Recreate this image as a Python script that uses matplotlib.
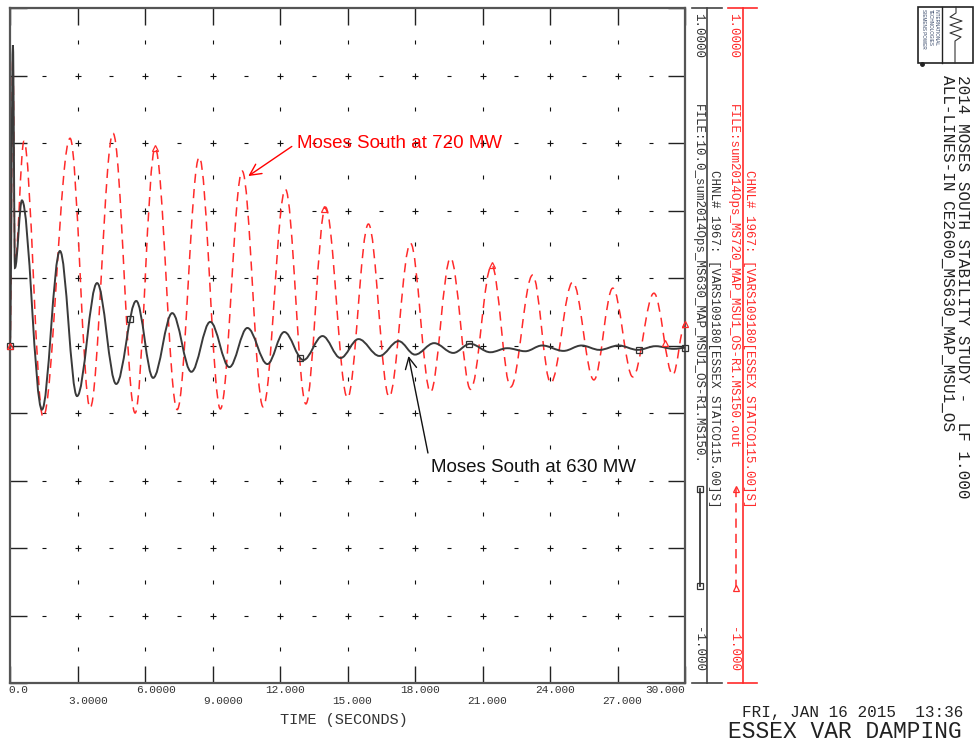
import numpy as np
import matplotlib
matplotlib.use("Agg")
import matplotlib.pyplot as plt
from matplotlib.path import Path
from matplotlib.patches import PathPatch, Rectangle

# ---- channel data: VARS109180 [ESSEX STATCO 115.00], normalised to +/-1 ----
# Moses South at 630 MW (solid): turning points of the response
black_t = [0.0, 0.13, 0.22, 0.53, 1.42, 2.22, 2.98, 3.87, 4.72, 5.61, 6.36, 7.21,
           8.06, 8.90, 9.75, 10.55, 11.44, 12.19, 13.04, 13.89, 14.69, 15.49,
           16.42, 17.27, 18.00, 18.85, 19.70, 20.45, 21.35, 22.10, 22.90, 23.65,
           24.60, 25.40, 26.20, 27.05, 27.90, 28.70, 29.50, 30.0]
black_v = [0.0, 0.89, 0.23, 0.43, -0.19, 0.28, -0.15, 0.185, -0.114, 0.132, -0.096, 0.096,
           -0.078, 0.070, -0.064, 0.052, -0.055, 0.040, -0.043, 0.028, -0.037, 0.019,
           -0.031, 0.013, -0.027, 0.007, -0.022, 0.005, -0.020, -0.008, -0.017, 0.0,
           -0.016, 0.0, -0.013, 0.0, -0.013, -0.002, -0.010, -0.007]
black_mark_t = [0.0, 5.35, 12.9, 20.4, 27.95, 30.0]
black_mark_v = [0.0, 0.078, -0.038, 0.005, -0.013, -0.007]

# Moses South at 720 MW (dashed)
red_t = [0.0, 0.13, 0.22, 0.62, 1.47, 2.67, 3.56, 4.58, 5.56, 6.45, 7.43, 8.41,
         9.35, 10.32, 11.25, 12.24, 13.15, 14.02, 15.00, 15.93, 16.85, 17.80,
         18.69, 19.58, 20.47, 21.41, 22.25, 23.23, 24.03, 25.01, 25.95, 26.79,
         27.68, 28.62, 29.46, 30.0]
red_v = [0.0, 0.86, 0.245, 0.605, -0.212, 0.614, -0.185, 0.629, -0.200, 0.585, -0.190, 0.558,
         -0.188, 0.517, -0.182, 0.463, -0.173, 0.410, -0.155, 0.360, -0.152, 0.303,
         -0.138, 0.259, -0.130, 0.238, -0.123, 0.209, -0.111, 0.188, -0.102, 0.170,
         -0.093, 0.155, -0.087, 0.064]
red_mark_t = [0.0, 6.45, 13.95, 21.41, 29.1, 30.0]
red_mark_v = [0.0, 0.585, 0.405, 0.238, 0.007, 0.064]

x_tick_labels = ["0.0", "3.0000", "6.0000", "9.0000", "12.000", "15.000",
                 "18.000", "21.000", "24.000", "27.000", "30.000"]
x_ticks = [0, 3, 6, 9, 12, 15, 18, 21, 24, 27, 30]

MONO = "Liberation Mono"
SANS = "Liberation Sans"
RED = "#ff2a2a"
INK = "#333333"

W, H = 977, 742
fig = plt.figure(figsize=(W / 100, H / 100), dpi=100)
fig.patch.set_facecolor("white")

ax = fig.add_axes([10 / W, (H - 683) / H, 675 / W, 675 / H])
ax.set_xlim(0, 30)
ax.set_ylim(-1, 1)
ax.set_xticks(x_ticks)
ax.set_yticks(np.round(np.linspace(-1, 1, 11), 2))
ax.tick_params(direction="in", length=12.5, width=1.0, color="#222222",
               top=True, right=True, labelbottom=False, labelleft=False)
for sp in ax.spines.values():
    sp.set_color("#555555")
    sp.set_linewidth(1.6)

# plotter-style grid: crosses at major intersections, dashes/ticks halfway
xm = np.arange(3, 30, 3)
ym = np.round(np.arange(-0.8, 0.81, 0.2), 2)
XX, YY = np.meshgrid(xm, ym)
ax.plot(XX.ravel(), YY.ravel(), ls="none", marker="+", ms=4, mew=0.8, color="#111111", zorder=1)
XH, YH = np.meshgrid(np.arange(1.5, 30, 3), ym)
ax.plot(XH.ravel(), YH.ravel(), ls="none", marker="_", ms=3.2, mew=0.8, color="#111111", zorder=1)
XV, YV = np.meshgrid(xm, np.round(np.arange(-0.9, 0.91, 0.2), 2))
ax.plot(XV.ravel(), YV.ravel(), ls="none", marker="|", ms=3.2, mew=0.8, color="#111111", zorder=1)


def wave_path(t, v, k=0.36):
    """Smooth curve through successive turning points (cubic Bezier pieces)."""
    verts = [(t[0], v[0])]
    codes = [Path.MOVETO]
    for i in range(len(t) - 1):
        d = t[i + 1] - t[i]
        verts += [(t[i] + k * d, v[i]), (t[i + 1] - k * d, v[i + 1]), (t[i + 1], v[i + 1])]
        codes += [Path.CURVE4] * 3
    return Path(verts, codes)


ax.add_patch(PathPatch(wave_path(red_t, red_v), fill=False, ec=RED, lw=1.1,
                       ls=(0, (6, 4)), zorder=3))
ax.add_patch(PathPatch(wave_path(black_t, black_v), fill=False, ec="#3a3a3a", lw=1.4, zorder=4))
ax.plot(black_mark_t, black_mark_v, ls="none", marker="s", ms=4, mfc="none",
        mec="#333333", mew=0.9, zorder=5, clip_on=False)
ax.plot(red_mark_t, red_mark_v, ls="none", marker="^", ms=4.5, mfc="none",
        mec=RED, mew=0.9, zorder=5, clip_on=False)

# staggered time labels
px = 0.72  # points per pixel at 100 dpi
for i, (xt, lab) in enumerate(zip(x_ticks, x_tick_labels)):
    dy = -7 if i % 2 == 0 else -18
    if i == 0:
        dx, ha = -2, "left"
    elif i == len(x_ticks) - 1:
        dx, ha = 0, "right"
    else:
        dx, ha = (-9 if len(lab.split(".")[0]) == 1 else -15), "left"
    ax.annotate(lab, xy=(xt, 0), xycoords=("data", "axes fraction"),
                xytext=(dx * px, dy * px), textcoords="offset points",
                ha=ha, va="center", fontsize=8, family=MONO, color=INK)

# curve callouts
ax.annotate("Moses South at 720 MW", xy=(10.59, 0.502), xytext=(12.75, 0.60),
            ha="left", va="center", fontsize=13.5, family=SANS, color="#ff0000",
            arrowprops=dict(arrowstyle="->,head_length=0.6,head_width=0.3", color="#ff0000",
                            lw=1.0, relpos=(0, 0.5), shrinkA=2, shrinkB=0))
ax.annotate("Moses South at 630 MW", xy=(17.71, -0.031), xytext=(18.7, -0.36),
            ha="left", va="center", fontsize=13.5, family=SANS, color="#111111",
            arrowprops=dict(arrowstyle="->,head_length=0.6,head_width=0.3", color="#111111",
                            lw=1.0, relpos=(0, 0.5), shrinkA=2, shrinkB=0))

# ---- page furniture in pixel space ----
ov = fig.add_axes([0, 0, 1, 1])
ov.set_xlim(0, W)
ov.set_ylim(H, 0)
ov.axis("off")

ov.text(344, 720, "TIME (SECONDS)", ha="center", va="center", fontsize=11, family=MONO, color=INK)

# channel scales
for xa, x0, x1, col, xl, xc, fname in [
        (707, 692, 722, "#444444", 698, 714, "FILE:10.0_sum2014Ops_MS630_MAP_MSU1_OS-R1.MS150."),
        (743, 728, 757, RED, 733, 749, "FILE:sum2014Ops_MS720_MAP_MSU1_OS-R1.MS150.out")]:
    ov.plot([xa, xa], [8, 683], color=col, lw=1.2)
    ov.plot([x0, x1], [8, 8], color=col, lw=1.2)
    ov.plot([x0, x1], [683, 683], color=col, lw=1.2)
    tcol = INK if col != RED else RED
    ov.text(xl, 13, "1.0000", rotation=-90, ha="center", va="top", fontsize=9, family=MONO, color=tcol)
    ov.text(xl, 672, "-1.000", rotation=-90, ha="center", va="bottom", fontsize=9, family=MONO, color=tcol)
    ov.text(xl, 104, fname, rotation=-90, ha="center", va="top", fontsize=9, family=MONO, color=tcol)
    ov.text(xc, 170, "CHNL# 1967: [VARS109180[ESSEX STATCO115.00]S]", rotation=-90,
            ha="center", va="top", fontsize=9, family=MONO, color=tcol)

# line keys
ov.plot([700, 700], [489, 586], color="#3a3a3a", lw=1.3)
ov.plot([700, 700], [489, 586], ls="none", marker="s", ms=4, mfc="none", mec="#333333", mew=0.9)
ov.plot([736, 736], [488, 587], color=RED, lw=1.1, ls=(0, (6, 4)))
ov.plot([736], [588], ls="none", marker="^", ms=4.5, mfc="none", mec=RED, mew=0.9)
ov.plot([736], [489], ls="none", marker="^", ms=4.5, mfc="none", mec=RED, mew=0.9)

# title block
ov.text(963, 75, "2014 MOSES SOUTH STABILITY STUDY -  LF 1.000", rotation=-90,
        ha="center", va="top", fontsize=11.5, family=MONO, color="#222222")
ov.text(948, 75, "ALL-LINES-IN CE2600_MS630_MAP_MSU1_OS", rotation=-90,
        ha="center", va="top", fontsize=11.5, family=MONO, color="#222222")
ov.text(963, 712, "FRI, JAN 16 2015  13:36", ha="right", va="center", fontsize=11.5,
        family=MONO, color="#222222")
ov.text(962, 731, "ESSEX VAR DAMPING", ha="right", va="center", fontsize=16.5,
        family=MONO, color="#222222")

# logo
ov.add_patch(Rectangle((918, 7), 55, 56, fill=False, ec="#222222", lw=1.2))
ov.plot([942, 942], [7, 63], color="#222222", lw=1.0)
zig_x = [956, 956, 950, 962, 950, 962, 950, 961, 955, 955]
zig_y = [7, 13, 17, 21, 25, 29, 33, 37, 41, 63]
ov.plot(zig_x, zig_y, color="#333333", lw=0.8)
for xx, s in [(924, "SIEMENS POWER"), (930, "TECHNOLOGIES"), (936, "INTERNATIONAL")]:
    ov.text(xx, 9, s, rotation=-90, ha="center", va="top", fontsize=3.3, family=SANS, color="#334466")
ov.plot([922], [64], marker="o", ms=2.5, color="#222222")

fig.savefig("out.png", dpi=100, facecolor="white")
